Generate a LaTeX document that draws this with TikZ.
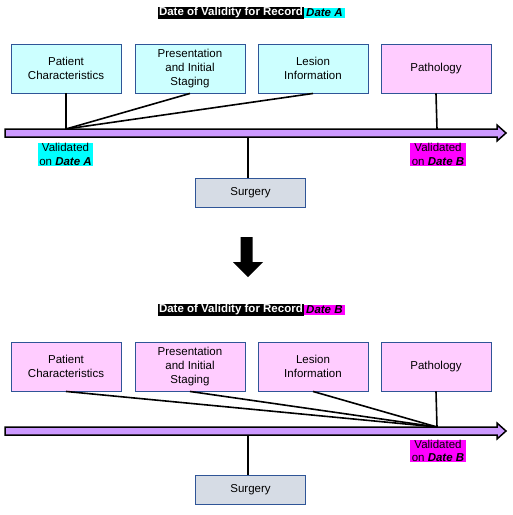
\documentclass[tikz,border=0pt]{standalone}
\usepackage{fontspec}
\setmainfont{Liberation Sans}
\definecolor{boxcyan}{HTML}{CCFFFF}
\definecolor{boxpink}{HTML}{FFCCFF}
\definecolor{boxgrey}{HTML}{D6DCE5}
\definecolor{boxedge}{HTML}{2F5597}
\definecolor{hlcyan}{HTML}{00FFFF}
\definecolor{hlmag}{HTML}{FF00FF}
\definecolor{tlpurple}{HTML}{CC99FF}
\begin{document}
\begin{tikzpicture}[x=1pt,y=-1pt,
  every node/.style={font=\fontsize{11.5}{14}\selectfont},
  infobox/.style={draw=boxedge,line width=0.9pt,minimum width=110pt,minimum height=49pt,align=center,inner sep=0pt},
  cyanbox/.style={infobox,fill=boxcyan},
  pinkbox/.style={infobox,fill=boxpink},
  surgbox/.style={infobox,fill=boxgrey,minimum height=29pt},
  conn/.style={draw=black,line width=1.6pt},
  timeline/.style={fill=tlpurple,draw=black,line width=1.5pt,line join=miter},
  titleblack/.style={fill=black,text=white,font=\fontsize{11.5}{14}\selectfont\bfseries,inner xsep=1pt,inner ysep=0.5pt},
  titledate/.style={font=\fontsize{11.5}{14}\selectfont\bfseries\itshape,inner xsep=2pt,inner ysep=0.5pt},
  vlabel/.style={align=center,inner xsep=1.5pt,inner ysep=0.5pt,font=\fontsize{11.5}{13.5}\selectfont}
]
\useasboundingbox (0,0) rectangle (513,515);

% ---------- top panel ----------
\node[titleblack,anchor=east] (tA) at (304,13) {Date of Validity for Record};
\node[titledate,fill=hlcyan,anchor=west] (tAd) at (tA.east) {Date A};

\node[cyanbox] (p1) at (66,68.5) {Patient\\Characteristics};
\node[cyanbox] (pr1) at (190,68.5) {Presentation\\and Initial\\Staging};
\node[cyanbox] (l1) at (313,68.5) {Lesion\\Information};
\node[pinkbox] (pa1) at (436,68.5) {Pathology};

\draw[timeline] (5,129) -- (497,129) -- (497,125) -- (506,133) -- (497,141) -- (497,137) -- (5,137) -- cycle;
\coordinate (vA) at (66,129);
\coordinate (vB) at (437,129);
\coordinate (sA) at (248,137);

\draw[conn] (p1.south) -- (vA);
\draw[conn] (pr1.south) -- (vA);
\draw[conn] (l1.south) -- (vA);
\draw[conn] (pa1.south) -- (vB);

\node[surgbox] (s1) at (250.5,192.5) {Surgery};
\draw[conn] (sA) -- (sA |- s1.north);

\node[vlabel,fill=hlcyan] (la1) at (65.5,154.5) {Validated\\on \textbf{\textit{Date A}}};
\node[vlabel,fill=hlmag] (lb1) at (438,154.5) {Validated\\on \textbf{\textit{Date B}}};

% ---------- big arrow ----------
\fill[black] (240.5,237) -- (252.5,237) -- (252.5,262) -- (263,262) -- (248,277) -- (233,262) -- (240.5,262) -- cycle;

% ---------- bottom panel ----------
\node[titleblack,anchor=east] (tB) at (304,310) {Date of Validity for Record};
\node[titledate,fill=hlmag,anchor=west] (tBd) at (tB.east) {Date B};

\node[pinkbox] (p2) at (66,366.5) {Patient\\Characteristics};
\node[pinkbox] (pr2) at (190,366.5) {Presentation\\and Initial\\Staging};
\node[pinkbox] (l2) at (313,366.5) {Lesion\\Information};
\node[pinkbox] (pa2) at (436,366.5) {Pathology};

\draw[timeline] (5,427) -- (497,427) -- (497,423) -- (506,431) -- (497,439) -- (497,435) -- (5,435) -- cycle;
\coordinate (vB2) at (437,427);
\coordinate (sB) at (248,435);

\draw[conn] (p2.south) -- (vB2);
\draw[conn] (pr2.south) -- (vB2);
\draw[conn] (l2.south) -- (vB2);
\draw[conn] (pa2.south) -- (vB2);

\node[surgbox] (s2) at (250.5,490) {Surgery};
\draw[conn] (sB) -- (sB |- s2.north);

\node[vlabel,fill=hlmag] (lb2) at (438,451) {Validated\\on \textbf{\textit{Date B}}};
\end{tikzpicture}
\end{document}
